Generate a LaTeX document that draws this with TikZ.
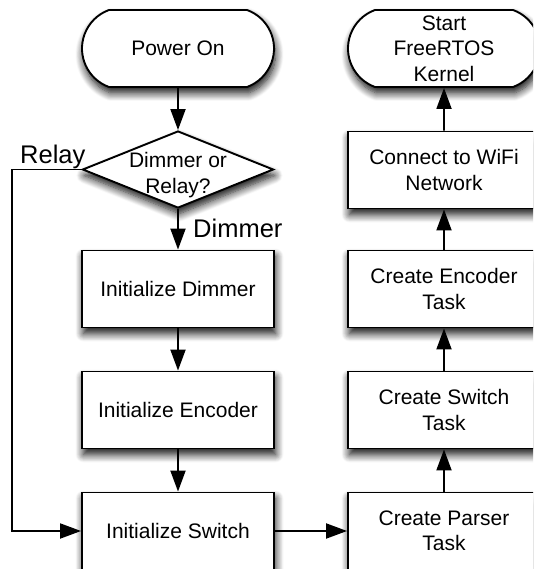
\documentclass[tikz,border=0pt]{standalone}
\usepackage{fontspec}
\setmainfont{Liberation Sans}
\usetikzlibrary{shapes.geometric,shapes.misc,arrows.meta,shadows.blur}

\begin{document}
\begin{tikzpicture}[x=1pt,y=-1pt,
  every node/.style={font=\fontsize{21}{25.5}\selectfont},
  base/.style={draw=black, line width=1.9pt, fill=white, inner sep=0pt,
    blur shadow={shadow xshift=1.5pt, shadow yshift=-6pt,
      shadow blur radius=8pt, shadow blur steps=10, shadow opacity=95}},
  procbox/.style={base, rectangle, minimum width=192pt, minimum height=77pt,
    align=center},
  termbox/.style={base, rounded rectangle, rounded rectangle arc length=140,
    minimum width=192pt, minimum height=77pt, align=center},
  decbox/.style={base, diamond, minimum width=191pt, minimum height=77pt},
  plaintext/.style={align=center, inner sep=0pt},
  flow/.style={line width=1.9pt, -{Triangle[length=21pt,width=15pt]}},
  edgelabel/.style={font=\fontsize{25.5}{30}\selectfont, inner sep=0pt}
]
\useasboundingbox (0,0) rectangle (533,569);
\clip (0,0) rectangle (533,569);

% left column: start-up and initialisation
\node[termbox] (pon) at (178,48.5) {Power On};
\node[decbox] (dec) at (178,169.5) {};
\node[plaintext] (dectext) at (178,175) {Dimmer or\\Relay?};
\node[procbox] (idim) at (178,289) {Initialize Dimmer};
\node[procbox] (ienc) at (178,410) {Initialize Encoder};
\node[procbox] (isw) at (178,531) {Initialize Switch};

% right column: task creation, bottom to top
\node[procbox] (cpar) at (444,531) {Create Parser\\Task};
\node[procbox] (csw) at (444,410) {Create Switch\\Task};
\node[procbox] (cenc) at (444,289) {Create Encoder\\Task};
\node[procbox] (wifi) at (444,170) {Connect to WiFi\\Network};
\node[termbox] (start) at (444,48.5) {Start\\FreeRTOS\\Kernel};

% branch labels
\node[edgelabel, anchor=base west] (relaylbl) at (20,163.5) {Relay};
\node[edgelabel, anchor=base west] (dimlbl) at (193,237) {Dimmer};

% relay bypass route
\coordinate (relayturn) at (12,169.5);

% connectors
\draw[flow] (pon) -- (dec);
\draw[flow] (dec) -- (idim);
\draw[flow] (idim) -- (ienc);
\draw[flow] (ienc) -- (isw);
\draw[flow] (dec.west) -- (relayturn) |- (isw.west);
\draw[flow] (isw) -- (cpar);
\draw[flow] (cpar) -- (csw);
\draw[flow] (csw) -- (cenc);
\draw[flow] (cenc) -- (wifi);
\draw[flow] (wifi) -- (start);
\end{tikzpicture}
\end{document}
